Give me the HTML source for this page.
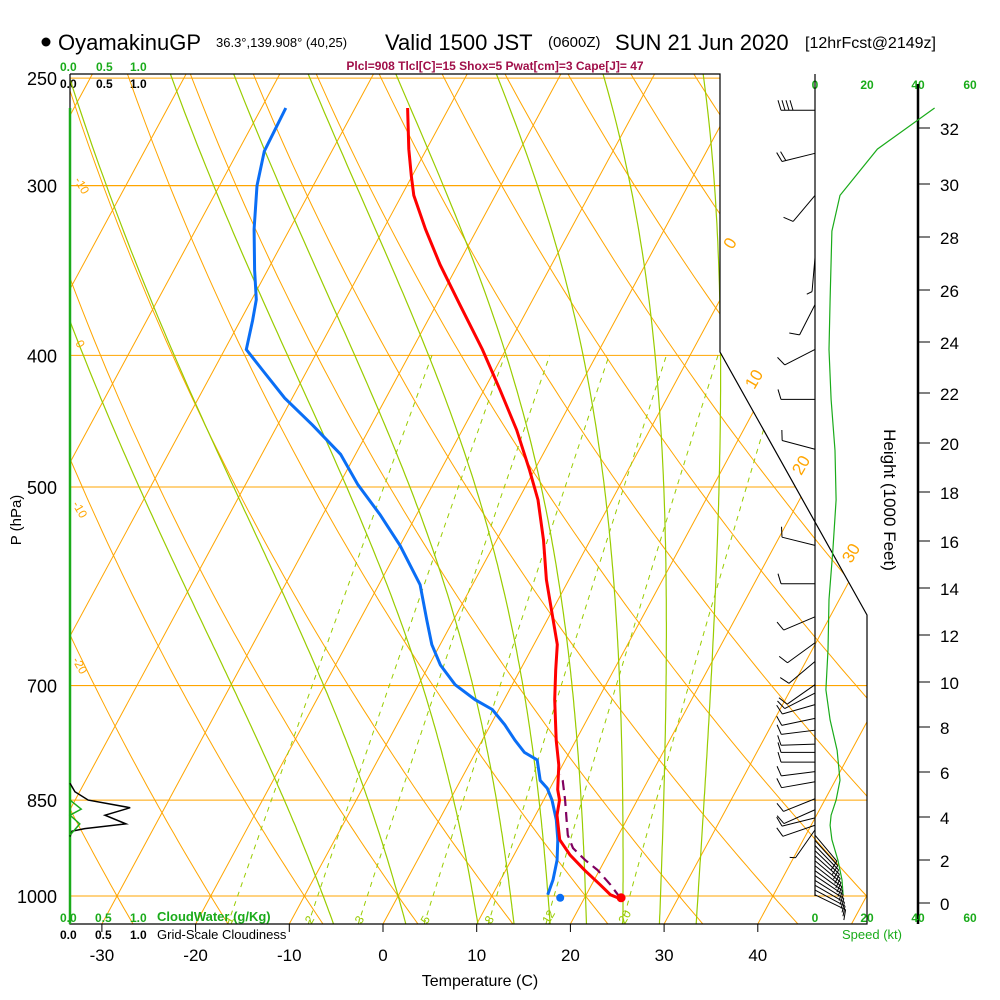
<!DOCTYPE html>
<html><head><meta charset="utf-8"><style>
html,body{margin:0;padding:0;background:#fff;}
svg{display:block;font-family:"Liberation Sans",sans-serif;}
</style></head><body>
<svg id="chart" width="1000" height="1000" viewBox="0 0 1000 1000">
<defs><clipPath id="plotclip"><polygon points="70,74 720,74 720,352 867,615 867,924 70,924"/></clipPath></defs>
<g id="title">
<circle cx="46" cy="42" r="4.5" fill="#000"/>
<text x="58" y="50" font-size="22">OyamakinuGP</text>
<text x="216" y="47" font-size="13">36.3°,139.908° (40,25)</text>
<text x="385" y="50" font-size="22">Valid 1500 JST</text>
<text x="548" y="47" font-size="15">(0600Z)</text>
<text x="615" y="50" font-size="22">SUN 21 Jun 2020</text>
<text x="805" y="48" font-size="16">[12hrFcst@2149z]</text>
</g>
<text x="495" y="70" font-size="12" font-weight="bold" fill="#a0104a" text-anchor="middle">Plcl=908 Tlcl[C]=15 Shox=5 Pwat[cm]=3 Cape[J]= 47</text>
<g font-size="12" font-weight="bold">
<text x="60" y="71" fill="#1aab1a">0.0</text><text x="96" y="71" fill="#1aab1a">0.5</text><text x="130" y="71" fill="#1aab1a">1.0</text>
<text x="60" y="88">0.0</text><text x="96" y="88">0.5</text><text x="130" y="88">1.0</text>
</g>
<g font-size="12" font-weight="bold" fill="#1aab1a" text-anchor="middle">
<text x="815" y="89">0</text><text x="867" y="89">20</text><text x="918" y="89">40</text><text x="970" y="89">60</text>
</g>
<g id="grid" clip-path="url(#plotclip)"></g>
<g id="series" clip-path="url(#plotclip)"></g>
<polyline points="70,74 720,74 720,352 867,615 867,924 70,924 70,74" fill="none" stroke="#000" stroke-width="1.2"/>
<line x1="815" y1="74" x2="815" y2="896" stroke="#000" stroke-width="1.2"/>
<line x1="918" y1="84" x2="918" y2="924" stroke="#000" stroke-width="2.5"/>
<g id="plevels" font-size="18" text-anchor="end"></g>
<text transform="translate(21,520) rotate(-90)" font-size="15" text-anchor="middle">P (hPa)</text>
<g id="xticks" font-size="17" text-anchor="middle"></g>
<text x="480" y="986" font-size="16" text-anchor="middle">Temperature (C)</text>
<g font-size="12" font-weight="bold">
<text x="60" y="922" fill="#1aab1a">0.0</text><text x="95" y="922" fill="#1aab1a">0.5</text><text x="130" y="922" fill="#1aab1a">1.0</text>
<text x="157" y="921" fill="#1aab1a" font-size="13">CloudWater (g/Kg)</text>
<text x="60" y="939">0.0</text><text x="95" y="939">0.5</text><text x="130" y="939">1.0</text>
<text x="157" y="939" font-size="13" font-weight="normal">Grid-Scale Cloudiness</text>
</g>
<g font-size="12" font-weight="bold" fill="#1aab1a" text-anchor="middle">
<text x="815" y="922">0</text><text x="867" y="922">20</text><text x="918" y="922">40</text><text x="970" y="922">60</text>
<text x="872" y="939" font-weight="normal" font-size="13">Speed (kt)</text>
</g>
<g id="hticks" font-size="17"></g>
<text transform="translate(884,500) rotate(90)" font-size="17" text-anchor="middle">Height (1000 Feet)</text>
<g font-size="17" fill="#ffa500" text-anchor="middle">
<text transform="translate(735,246) rotate(-60)">0</text>
<text transform="translate(759,382) rotate(-60)">10</text>
<text transform="translate(806,468) rotate(-60)">20</text>
<text transform="translate(856,556) rotate(-60)">30</text>
</g>
<g font-size="12" fill="#ffa500">
<text transform="translate(74,180) rotate(60)">-10</text>
<text transform="translate(75,343) rotate(60)">0</text>
<text transform="translate(72,504) rotate(60)">-10</text>
<text transform="translate(72,660) rotate(60)">-20</text>
</g>
<script>
const NS='http://www.w3.org/2000/svg';
// ---- data ----
const tempP=[263,282,295,305,323,343,367,396,424,454,486,511,547,585,616,653,682,717,768,801,835,850,872,909,933,957,981,998,1005];
const tempT=[-44.4,-41.9,-40.1,-38.7,-35.5,-31.9,-27.5,-22.5,-18.3,-14.2,-10.5,-7.9,-5.0,-2.4,-0.1,2.5,3.8,5.4,7.9,9.6,10.9,11.7,12.3,14.0,16.0,18.4,20.9,22.6,23.9];
const dewP=[263,283,300,323,346,364,377,396,410,430,450,473,498,524,552,590,627,653,676,699,717,729,748,768,784,794,822,833,850,879,909,941,973,998];
const dewT=[-57.4,-57.2,-56.0,-53.8,-51.4,-49.5,-48.7,-47.7,-44.8,-40.8,-36.3,-31.6,-28.0,-23.9,-20.0,-15.6,-12.8,-10.9,-8.8,-6.1,-3.1,-0.7,1.5,3.5,5.2,7.0,8.5,9.7,10.9,12.5,13.8,14.9,15.6,15.9];
const parcelP=[1003,981,957,941,922,902,879,850,822,814];
const parcelT=[23.8,22.0,19.8,17.9,15.9,14.6,13.6,12.3,10.9,10.3];
const sfcP=1003, sfcT=23.9, sfcTd=17.4;
const windP=[264,284,305,339,367,396,431,469,552,589,623,651,672,699,709,723,740,755,773,784,797,810,824,848,864,876,887,894,902,910,918,926,934,942,950,958,966,974,982,990,998];
const windDir=[270,256,220,185,207,243,270,285,284,270,247,234,230,235,243,254,258,263,268,270,270,263,260,248,246,256,251,215,140,138,136,134,132,130,128,126,124,122,120,118,116];
const windSpd=[40,20,10,5,10,10,10,10,10,10,10,10,10,10,10,10,10,10,10,10,10,10,10,10,10,10,10,5,10,10,10,10,10,10,10,10,10,10,10,10,10];
const speedP=[263,282,305,324,364,396,431,470,511,556,605,659,705,742,781,822,850,872,887,909,941,973,998];
const speedKt=[46,24,9.6,6.5,5.8,5.4,6.2,7.7,8.1,6.9,5.4,5.0,4.2,5.8,8.5,9.6,8.1,6.2,5.8,6.5,8.8,10.4,10.8];
const cloudP=[826,838,850,861,872,885,892,896,904];
const cloudFrac=[0,0.07,0.26,0.86,0.5,0.8,0.21,0.03,0];
const cwP=[850,863,872,885,902];
const cwVal=[0,0.16,0,0.14,0];
const pLevels=[250,300,400,500,700,850,1000];
const tTicks=[-30,-20,-10,0,10,20,30,40];
const heightTicks=[0,2,4,6,8,10,12,14,16,18,20,22,24,26,28,30,32];
const heightTickY=[903,860,817,772,727,682,635,588,541,492,443,393,342,290,237,184,128];
const mixRatios=[1,2,3,5,8,12,20];
const moistThetaW=[-8,0,8,12,16,20,24,28,32];
// ---- axes ----
function yP(p){return 896-590*Math.log(1000/p);}
function xT(T,y){return 383+9.37*T+0.54*(924-y);}
function xSpd(k){return 815+2.6*k;}
function xCloud(v){return 70+70*v;}
function mk(tag,attrs,parent){const e=document.createElementNS(NS,tag);for(const k in attrs)e.setAttribute(k,attrs[k]);parent.appendChild(e);return e;}
const grid=document.getElementById('grid'), ser=document.getElementById('series');
const OR='#ffa500';
pLevels.forEach(p=>{const y=yP(p);
 const l=mk('line',{x1:70,y1:y,x2:900,y2:y,stroke:OR,'stroke-width':(p==300||p==700)?1.2:1},grid);
 
 
 const t=mk('text',{x:57,y:y+7},document.getElementById('plevels'));t.textContent=p;
 
 
});
for(let T=-110;T<=50;T+=10){const l=mk('line',{x1:xT(T,924),y1:924,x2:xT(T,74),y2:74,stroke:OR,'stroke-width':1},grid);
 
 }
for(let k=-4;k<=22;k++){const th=273.15+k*10;let pts=[];
 for(let p=1060;p>=240;p-=10){const T=th*Math.pow(p/1000,0.2857)-273.15;const y=yP(p);pts.push(xT(T,y).toFixed(1)+','+y.toFixed(1));}
 const l=mk('polyline',{points:pts.join(' '),fill:'none',stroke:OR,'stroke-width':1},grid);
 
 }
function es(Tc){return 6.112*Math.exp(17.67*Tc/(Tc+243.5));}
moistThetaW.forEach(tw=>{
 function run(dir){let T=tw+273.15,p=1000,pts=[];
  while(dir<0?p>=240:p<=1060){const y=yP(p);pts.push(xT(T-273.15,y).toFixed(1)+','+y.toFixed(1));
   const e=es(T-273.15),rs=0.622*e/(p-e);
   const dTdp=(287*T+2.5e6*rs)/(p*(1004+2.5e6*2.5e6*rs*0.622/(287*T*T)));
   const dp=dir*5;T+=dTdp*dp;p+=dp;}
  return pts;}
 const pts=run(1).reverse().concat(run(-1));
 const l=mk('polyline',{points:pts.join(' '),fill:'none',stroke:'#99cc00','stroke-width':1.2},grid);
 
 });
mixRatios.forEach(w=>{let pts=[];
 for(let p=1050;p>=400;p-=10){const e=w*p/(622+w),a=Math.log(e/6.112),Td=243.5*a/(17.67-a);const y=yP(p);pts.push(xT(Td,y).toFixed(1)+','+y.toFixed(1));}
 const l=mk('polyline',{points:pts.join(' '),fill:'none',stroke:'#99cc00','stroke-width':1,'stroke-dasharray':'5,5'},grid);
 
 
 const e=w*1040/(622+w),a=Math.log(e/6.112),Td=243.5*a/(17.67-a);
 const t=mk('text',{x:xT(Td,yP(1040))-4,y:yP(1040)+4,'font-size':12,fill:'#99cc00',transform:`rotate(-60 ${xT(Td,yP(1040))} ${yP(1040)})`},grid);t.textContent=w;
 
 
});
function line(P,V,fx,attrs,name){const pts=P.map((p,i)=>{const y=yP(p);return fx(V[i],y).toFixed(1)+','+y.toFixed(1);}).join(' ');
 const l=mk('polyline',Object.assign({points:pts,fill:'none'},attrs),ser);
 
 return l;}
line(dewP,dewT,xT,{stroke:'#0a6ef5','stroke-width':3},'dewpoint-line');
line(parcelP,parcelT,xT,{stroke:'#800060','stroke-width':2.2,'stroke-dasharray':'10,6'},'parcel-path');
line(tempP,tempT,xT,{stroke:'#ff0000','stroke-width':3},'temperature-line');
const sd=mk('circle',{cx:xT(sfcT,yP(sfcP)),cy:yP(sfcP),r:4.5,fill:'#ff0000'},ser);


const sdd=mk('circle',{cx:xT(sfcTd,yP(sfcP)),cy:yP(sfcP),r:4,fill:'#0a6ef5'},ser);


const svg=document.getElementById('chart');
function line2(P,V,fx,attrs,name){const pts=P.map((p,i)=>fx(V[i]).toFixed(1)+','+yP(p).toFixed(1)).join(' ');
 const l=mk('polyline',Object.assign({points:pts,fill:'none'},attrs),svg);
 
 }
const cl=mk('line',{x1:70,y1:108,x2:70,y2:924,stroke:'#1aab1a','stroke-width':2.5},svg);


line2(cloudP,cloudFrac,xCloud,{stroke:'#000','stroke-width':1.5},'cloudiness-line');
line2(cwP,cwVal,xCloud,{stroke:'#1aab1a','stroke-width':1.5},'cloud-water-line');
line2(speedP,speedKt,xSpd,{stroke:'#1aab1a','stroke-width':1.2},'wind-speed-line');
windP.forEach((p,i)=>{const y=yP(p),d=windDir[i]*Math.PI/180,L=34;
 const ux=Math.sin(d),uy=-Math.cos(d);const x2=815+L*ux,y2=y+L*uy;
 const g=mk('g',{stroke:'#000','stroke-width':1,fill:'none'},svg);
 
 
 mk('line',{x1:815,y1:y,x2:x2,y2:y2},g);
 let s=windSpd[i],k=0;const px=-uy,py=ux;
 while(s>=5){const len=s>=10?10:5;const bx=x2-ux*k*4,by=y2-uy*k*4;
  mk('line',{x1:bx,y1:by,x2:bx+(ux*3+px*len),y2:by+(uy*3+py*len)},g);s-=len>=10?10:5;k++;}
});
tTicks.forEach(T=>{const x=xT(T,924);
 const tk=mk('line',{x1:x,y1:924,x2:x,y2:932,stroke:'#000'},svg);
 
 
 const t=mk('text',{x:x,y:961},document.getElementById('xticks'));t.textContent=T;
 
 });
heightTicks.forEach((h,i)=>{const y=heightTickY[i];
 const tk=mk('line',{x1:918,y1:y,x2:930,y2:y,stroke:'#000'},svg);
 
 
 const t=mk('text',{x:940,y:y+7},document.getElementById('hticks'));t.textContent=h;
 
 });
</script>
</svg>
</body></html>
